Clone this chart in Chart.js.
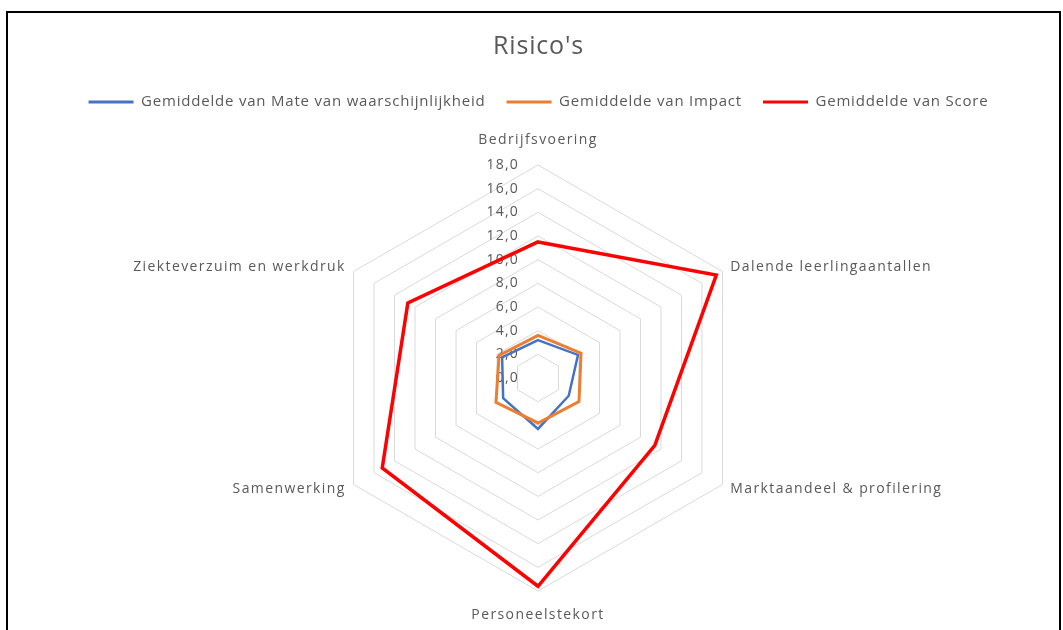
<!DOCTYPE html>
<html><head><meta charset="utf-8">
<script src="https://cdn.jsdelivr.net/npm/chart.js@4.4.1/dist/chart.umd.min.js"></script>
<style>
html,body{margin:0;padding:0;background:#fff;overflow:hidden;}
#wrap{position:relative;width:1063px;height:630px;}
#c{position:absolute;left:0;top:0;}
#frame{position:absolute;left:6px;top:11px;width:1051px;height:640px;border:2px solid #000;border-bottom:none;pointer-events:none;}
</style></head>
<body><div id="wrap"><canvas id="c" width="1063" height="630"></canvas><div id="frame"></div></div>
<script>
const categories = ['Bedrijfsvoering', 'Dalende leerlingaantallen', 'Marktaandeel & profilering', 'Personeelstekort', 'Samenwerking', 'Ziekteverzuim en werkdruk'];
const seriesNames = ['Gemiddelde van Mate van waarschijnlijkheid', 'Gemiddelde van Impact', 'Gemiddelde van Score'];
const mateValues = [3.2, 3.9, 3.0, 4.3, 3.4, 3.5];
const impactValues = [3.6, 4.2, 4.0, 3.8, 4.1, 3.8];
const scoreValues = [11.5, 17.4, 11.4, 17.6, 15.2, 12.7];
const tickValues = [0, 2, 4, 6, 8, 10, 12, 14, 16, 18];
const tickLabels = ['0,0', '2,0', '4,0', '6,0', '8,0', '10,0', '12,0', '14,0', '16,0', '18,0'];

const TEXT = '#595959';
const FONT = '"Open Sans", "Liberation Sans", sans-serif';

const spacingPlugin = {
  id: 'spacing',
  beforeLayout(chart) { chart.ctx.letterSpacing = '0.8px'; },
  beforeDraw(chart) { chart.ctx.letterSpacing = '0.8px'; }
};

const labelsPlugin = {
  id: 'customLabels',
  beforeDatasetsDraw(chart) {
    const s = chart.scales.r, ctx = chart.ctx;
    ctx.save();
    ctx.font = '14px ' + FONT;
    ctx.letterSpacing = '1.2px';
    ctx.fillStyle = TEXT;
    ctx.textAlign = 'right';
    ctx.textBaseline = 'middle';
    tickValues.forEach((v, i) => {
      const y = s.yCenter - s.getDistanceFromCenterForValue(v);
      ctx.fillText(tickLabels[i], s.xCenter - 19, y);
    });
    ctx.restore();
  },
  afterDatasetsDraw(chart) {
    const s = chart.scales.r, ctx = chart.ctx;
    ctx.save();
    ctx.font = '14px ' + FONT;
    ctx.letterSpacing = '1.4px';
    ctx.fillStyle = TEXT;
    ctx.textBaseline = 'middle';
    categories.forEach((label, i) => {
      const base = s.getPointPosition(i, s.drawingArea);
      const vertical = Math.abs(base.x - s.xCenter) < 1;
      const p = s.getPointPosition(i, s.drawingArea + (vertical ? 24.5 : 9));
      ctx.textAlign = vertical ? 'center' : (p.x > s.xCenter ? 'left' : 'right');
      ctx.fillText(label, p.x, p.y);
    });
    ctx.restore();
  }
};

const chart = new Chart(document.getElementById('c'), {
  type: 'radar',
  data: {
    labels: categories,
    datasets: [
      { label: seriesNames[0], data: mateValues, borderColor: '#4472C4', backgroundColor: '#4472C4', borderWidth: 2.5, fill: false, pointRadius: 0, pointHoverRadius: 0, order: 2 },
      { label: seriesNames[1], data: impactValues, borderColor: '#ED7D31', backgroundColor: '#ED7D31', borderWidth: 3, fill: false, pointRadius: 0, pointHoverRadius: 0, order: 1 },
      { label: seriesNames[2], data: scoreValues, borderColor: '#FF0000', backgroundColor: '#FF0000', borderWidth: 3.5, fill: false, pointRadius: 0, pointHoverRadius: 0, order: 0 }
    ]
  },
  options: {
    responsive: false,
    animation: false,
    events: [],
    layout: { padding: { left: 14, right: 0, top: 0, bottom: 38.5 } },
    elements: { line: { tension: 0, borderJoinStyle: 'miter' } },
    plugins: {
      title: {
        display: true, text: "Risico's", color: TEXT,
        font: { family: FONT, size: 25, weight: 'normal', lineHeight: 1.2 },
        padding: { top: 31.5, bottom: 12 }
      },
      subtitle: {
        display: true, text: ' ', weight: 500, color: 'rgba(0,0,0,0)',
        font: { size: 10, lineHeight: 1 },
        padding: { top: 36, bottom: 0 }
      },
      legend: {
        display: true, position: 'top',
        labels: {
          color: TEXT, font: { family: FONT, size: 15 },
          boxWidth: 45, boxHeight: 3, padding: 21,
          sort: (a, b) => a.datasetIndex - b.datasetIndex,
          generateLabels(ch) {
            return Chart.defaults.plugins.legend.labels.generateLabels(ch).map(it => {
              const ds = ch.data.datasets[it.datasetIndex];
              it.fillStyle = ds.borderColor; it.strokeStyle = ds.borderColor; it.lineWidth = 0;
              return it;
            });
          }
        }
      },
      tooltip: { enabled: false }
    },
    scales: {
      r: {
        min: 0, max: 18,
        ticks: { stepSize: 2, display: false },
        grid: { color: '#d9d9d9', lineWidth: 1, circular: false },
        angleLines: { display: false },
        pointLabels: { display: false }
      }
    }
  },
  plugins: [spacingPlugin, labelsPlugin]
});
</script>
</body></html>
